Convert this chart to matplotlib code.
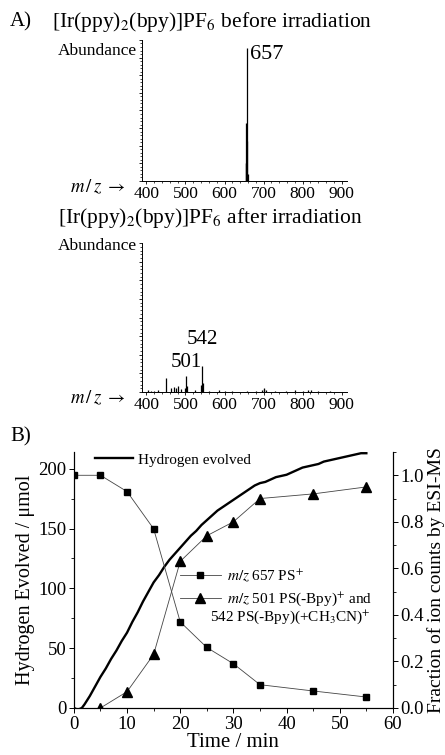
import matplotlib
matplotlib.use('Agg')
import matplotlib.pyplot as plt
from matplotlib.ticker import MultipleLocator

plt.rcParams['font.family'] = ['Liberation Serif', 'DejaVu Serif']
plt.rcParams['mathtext.fontset'] = 'stix'

# ESI-MS spectrum before irradiation (m/z, relative abundance)
mz_before = [654, 655, 656, 657, 658, 659]
ab_before = [0.13, 0.41, 0.13, 0.94, 0.28, 0.05]

# ESI-MS spectrum after irradiation
mz_after = [405, 412, 420, 430, 449, 463, 470, 476, 482, 489, 499, 501, 503,
            525, 540, 542, 544, 560, 585, 600, 620, 657, 680, 697, 700, 702,
            705, 730, 757, 780, 800, 815, 822, 840, 870]
ab_after = [0.015, 0.01, 0.01, 0.012, 0.095, 0.03, 0.035, 0.03, 0.04, 0.02,
            0.03, 0.11, 0.04, 0.015, 0.05, 0.175, 0.06, 0.01, 0.015, 0.01,
            0.008, 0.01, 0.008, 0.015, 0.02, 0.025, 0.015, 0.01, 0.01, 0.012,
            0.01, 0.012, 0.012, 0.01, 0.008]

# hydrogen evolution (umol) vs time (min)
t_h2 = [0, 0.5, 1, 1.5, 2, 3, 4, 5, 6, 7, 8, 9, 10, 11, 12, 13, 14, 15, 16,
        17, 18, 19, 20, 21, 22, 23, 24, 25, 26, 27, 28, 29, 30, 31, 32, 33,
        34, 35, 36, 37, 38, 39, 40, 41, 42, 43, 44, 45, 46, 47, 48, 49, 50,
        51, 52, 53, 54, 55]
h2 = [0, -1, -1, 0, 3, 10, 18, 26, 33, 41, 48, 56, 63, 72, 80, 89, 97, 105,
      111, 118, 124, 129, 134, 139, 144, 148, 153, 157, 161, 165, 168, 171,
      174, 177, 180, 183, 186, 188, 189, 191, 193, 194, 195, 197, 199, 201,
      202, 203, 204, 206, 207, 208, 209, 210, 211, 212, 213, 213]

# fraction of ion counts
t_ms = [0, 5, 10, 15, 20, 25, 30, 35, 45, 55]
frac_657 = [1.0, 1.0, 0.93, 0.77, 0.37, 0.26, 0.19, 0.10, 0.073, 0.047]
t_ms2 = [5, 10, 15, 20, 25, 30, 35, 45, 55]
frac_501 = [0.0, 0.07, 0.23, 0.63, 0.74, 0.80, 0.90, 0.92, 0.95]

fig = plt.figure(figsize=(4.45, 7.55), dpi=100)


def spectrum_axes(rect, mz, ab):
    ax = fig.add_axes(rect)
    ax.vlines(mz, 0, ab, color='black', lw=0.9)
    ax.set_xlim(388.5, 914)
    ax.set_ylim(0, 1)
    ax.spines['top'].set_visible(False)
    ax.spines['right'].set_visible(False)
    ax.spines['left'].set_linewidth(0.7)
    ax.spines['bottom'].set_linewidth(0.7)
    ax.xaxis.set_major_locator(MultipleLocator(100))
    ax.xaxis.set_minor_locator(MultipleLocator(20))
    ax.yaxis.set_major_locator(MultipleLocator(0.125))
    ax.yaxis.set_minor_locator(MultipleLocator(0.025))
    ax.tick_params(axis='x', which='major', length=2.5, width=0.6,
                   labelsize=12.5, pad=1)
    ax.tick_params(axis='x', which='minor', length=1.2, width=0.5)
    ax.tick_params(axis='y', which='major', length=2.2, width=0.6,
                   labelleft=False)
    ax.tick_params(axis='y', which='minor', length=1.2, width=0.5)
    return ax


ax_a1 = spectrum_axes([0.319, 0.7603, 0.461, 0.1868], mz_before, ab_before)
ax_a2 = spectrum_axes([0.319, 0.4808, 0.461, 0.197], mz_after, ab_after)

ax_a1.text(657 + 7, 0.90, '657', fontsize=16, va='center', ha='left')
ax_a2.text(542, 0.29, '542', fontsize=15, va='bottom', ha='center')
ax_a2.text(501, 0.135, '501', fontsize=15, va='bottom', ha='center')

fig.text(10 / 445, 1 - 22 / 755, 'A)', fontsize=15, va='center')
fig.text(52 / 445, 1 - 22 / 755,
         r'[Ir(ppy)$_2$(bpy)]PF$_6$ before irradiation',
         fontsize=15.5, va='center')
fig.text(58 / 445, 1 - 218 / 755,
         r'[Ir(ppy)$_2$(bpy)]PF$_6$ after irradiation',
         fontsize=15.5, va='center')
for yy in (51, 246):
    fig.text(137 / 445, 1 - yy / 755, 'Abundance', fontsize=12.5,
             ha='right', va='center')
for yy in (187, 398):
    fig.text(70 / 445, 1 - yy / 755, r'$m\,/\,z\;\rightarrow$',
             fontsize=13.5, ha='left', va='center')

# panel B
fig.text(10 / 445, 1 - 437 / 755, 'B)', fontsize=15, va='center')
ax = fig.add_axes([0.166, 0.0623, 0.717, 0.339])
ax2 = ax.twinx()

h2_line, = ax.plot(t_h2, h2, color='black', lw=1.7,
                   label='Hydrogen evolved')
sq_line, = ax2.plot(t_ms, frac_657, color='#444444', lw=0.6, marker='s',
                    ms=5, mfc='black', mec='black',
                    label=r'$m/z$ 657 PS$^{+}$')
tri_line, = ax2.plot(t_ms2, frac_501, color='#444444', lw=0.6, marker='^',
                     ms=6.5, mfc='black', mec='black',
                     label=r'$m/z$ 501 PS(-Bpy)$^{+}$ and')

ax.set_xlim(0, 60)
ax.set_ylim(0, 214)
ax2.set_ylim(0, 1.1)
ax.xaxis.set_major_locator(MultipleLocator(10))
ax.xaxis.set_minor_locator(MultipleLocator(5))
ax.yaxis.set_major_locator(MultipleLocator(50))
ax.yaxis.set_minor_locator(MultipleLocator(25))
ax2.yaxis.set_minor_locator(MultipleLocator(0.1))
ax2.set_yticks([0, 0.2, 0.4, 0.6, 0.8, 1.0])
ax2.set_yticklabels(['0.0', '0.2', '0.4', '0.6', '0.8', '1.0'])

for a in (ax, ax2):
    a.spines['top'].set_visible(False)
    for s in ('left', 'right', 'bottom'):
        a.spines[s].set_linewidth(0.8)
    a.tick_params(which='major', length=3.5, width=0.7, labelsize=13.5,
                  pad=2)
    a.tick_params(which='minor', length=2, width=0.6)

ax.set_xlabel('Time / min', fontsize=15, labelpad=0)
ax.set_ylabel('Hydrogen Evolved / μmol', fontsize=14.5, labelpad=2)
ax2.set_ylabel('Fraction of ion counts by ESI-MS', fontsize=14, labelpad=2)

leg1 = ax.legend(handles=[h2_line], loc='center left',
                 bbox_to_anchor=(0.066, 0.969), frameon=False, fontsize=11,
                 handlelength=2.5, handletextpad=0.35, borderpad=0,
                 borderaxespad=0)
leg2 = ax2.legend(handles=[sq_line, tri_line], loc='center left',
                  bbox_to_anchor=(0.332, 0.469), frameon=False, fontsize=11,
                  handlelength=2.7, handletextpad=0.4, borderpad=0,
                  borderaxespad=0, labelspacing=0.45)
ax2.text(0.426, 0.355, r'542 PS(-Bpy)(+CH$_3$CN)$^{+}$', fontsize=11,
         transform=ax2.transAxes, va='center', ha='left')

fig.savefig('out.png', dpi=100)
